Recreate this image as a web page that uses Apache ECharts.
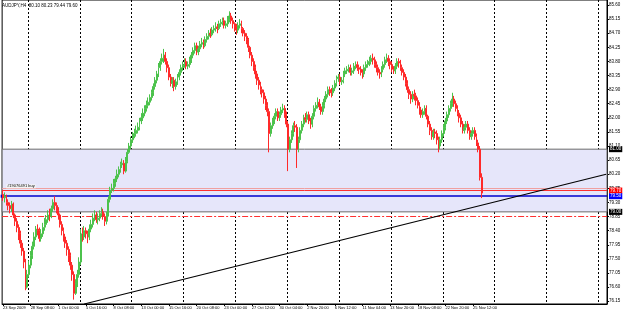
<!DOCTYPE html>
<html><head><meta charset="utf-8">
<script src="https://cdn.jsdelivr.net/npm/echarts@6/dist/echarts.min.js"></script>
<style>html,body{margin:0;padding:0;background:#fff}#c{width:625px;height:312px}</style>
</head><body><div id="c"></div>
<script>
const titleText = 'AUDJPY,H4  80.10 80.23 79.44 79.60';
const tickLabels = ['23 Sep 2009','28 Sep 08:00','1 Oct 00:00','5 Oct 16:00','8 Oct 08:00','13 Oct 00:00','15 Oct 16:00','20 Oct 08:00','23 Oct 00:00','27 Oct 12:00','30 Oct 04:00','2 Nov 20:00','6 Nov 12:00','11 Nov 04:00','13 Nov 20:00','18 Nov 08:00','22 Nov 20:00','25 Nov 12:00'];
const priceTicks = [85.60,85.15,84.70,84.25,83.80,83.35,82.90,82.45,82.00,81.55,81.10,80.65,80.20,79.75,79.30,78.85,78.40,77.95,77.50,77.05,76.60,76.15];
// [open, close, low, high]
const candles = [
[79.55,79.45,79.35,79.70],[79.45,79.50,79.30,79.62],[79.50,79.30,79.20,79.55],[79.30,79.20,79.05,79.40],[79.20,79.10,78.95,79.30],
[79.10,79.25,79.00,79.35],[79.25,78.90,78.80,79.30],[78.90,78.70,78.55,78.95],[78.70,78.50,78.35,78.80],[78.50,78.30,78.10,78.60],
[78.30,78.00,77.85,78.40],[78.00,77.75,77.60,78.10],[77.75,77.40,77.20,77.85],[77.40,76.60,76.50,77.50],[76.60,77.00,76.55,77.15],
[77.00,77.30,76.90,77.45],[77.30,77.60,77.20,77.75],[77.60,77.90,77.50,78.05],[77.90,78.20,77.80,78.35],[78.20,78.45,78.10,78.55],
[78.45,78.40,78.25,78.60],[78.40,78.15,78.05,78.50],[78.15,78.30,78.05,78.45],[78.30,78.50,78.20,78.65],[78.50,78.60,78.40,78.80],
[78.60,78.75,78.50,78.90],[78.75,78.90,78.65,79.05],[78.90,78.85,78.70,79.10],[78.85,79.10,78.80,79.20],[79.10,79.30,79.00,79.40],
[79.30,79.20,79.05,79.50],[79.20,79.05,78.95,79.30],[79.05,78.90,78.75,79.15],[78.90,78.60,78.50,78.95],[78.60,78.40,78.25,78.70],
[78.40,78.20,78.05,78.50],[78.20,78.00,77.85,78.30],[78.00,77.80,77.60,78.10],[77.80,77.60,77.40,77.90],[77.60,77.30,77.15,77.70],
[77.30,77.00,76.80,77.40],[77.00,76.40,76.20,77.10],[76.40,76.70,76.35,76.85],[76.70,77.00,76.60,77.15],[77.00,77.40,76.90,77.55],
[77.40,78.30,77.30,78.45],[78.30,78.20,78.05,78.50],[78.20,78.40,78.10,78.55],[78.40,78.30,78.15,78.50],[78.30,78.20,78.00,78.40],
[78.20,78.45,78.10,78.60],[78.45,78.60,78.35,78.75],[78.60,78.80,78.50,78.95],[78.80,78.90,78.70,79.05],[78.90,78.75,78.65,79.00],
[78.75,78.80,78.60,78.95],[78.80,78.95,78.70,79.05],[78.95,79.00,78.85,79.15],[79.00,78.85,78.75,79.10],[78.85,78.70,78.55,78.95],
[78.70,78.90,78.60,79.00],[78.90,79.40,78.85,79.50],[79.40,79.70,79.30,79.80],[79.70,79.75,79.60,79.90],[79.75,79.90,79.65,80.05],
[79.90,80.05,79.80,80.15],[80.05,80.20,79.95,80.35],[80.20,80.35,80.10,80.45],[80.35,80.50,80.25,80.60],[80.50,80.55,80.40,80.70],
[80.55,80.30,80.20,80.65],[80.30,80.60,80.25,80.75],[80.60,80.90,80.55,81.00],[80.90,81.10,80.85,81.20],[81.10,81.30,81.00,81.40],
[81.30,81.45,81.20,81.55],[81.45,81.50,81.35,81.65],[81.50,81.60,81.40,81.75],[81.60,81.70,81.50,81.85],[81.70,81.90,81.60,82.00],
[81.90,82.00,81.80,82.15],[82.00,82.15,81.90,82.30],[82.15,82.30,82.05,82.40],[82.30,82.40,82.20,82.55],[82.40,82.50,82.30,82.65],
[82.50,82.65,82.40,82.75],[82.65,82.80,82.55,82.90],[82.80,83.00,82.70,83.10],[83.00,83.20,82.90,83.30],[83.20,83.40,83.10,83.50],
[83.40,83.60,83.30,83.75],[83.60,83.80,83.50,83.90],[83.80,83.90,83.70,84.05],[83.90,84.00,83.75,84.20],[84.00,83.80,83.70,84.10],
[83.80,83.60,83.45,83.90],[83.60,83.30,83.20,83.70],[83.30,83.10,83.00,83.40],[83.10,83.20,82.95,83.30],[83.20,83.00,82.85,83.30],
[83.00,83.15,82.90,83.25],[83.15,83.30,83.05,83.40],[83.30,83.45,83.20,83.55],[83.45,83.60,83.35,83.70],[83.60,83.70,83.50,83.80],
[83.70,83.80,83.60,83.90],[83.80,83.65,83.55,83.90],[83.65,83.70,83.55,83.80],[83.70,83.85,83.60,83.95],[83.85,84.00,83.75,84.10],
[84.00,84.15,83.90,84.25],[84.15,84.30,84.05,84.40],[84.30,84.10,84.00,84.40],[84.10,84.20,84.00,84.30],[84.20,84.35,84.10,84.45],
[84.35,84.40,84.25,84.55],[84.40,84.30,84.20,84.50],[84.30,84.50,84.25,84.60],[84.50,84.60,84.40,84.70],[84.60,84.70,84.50,84.80],
[84.70,84.65,84.55,84.85],[84.65,84.80,84.60,84.90],[84.80,84.85,84.70,84.95],[84.85,84.90,84.75,85.05],[84.90,84.85,84.70,85.00],
[84.85,85.00,84.80,85.10],[85.00,85.05,84.90,85.15],[85.05,85.10,84.95,85.20],[85.10,84.95,84.85,85.20],[84.95,85.00,84.85,85.10],
[85.00,85.15,84.90,85.25],[85.15,85.25,85.05,85.40],[85.25,85.10,85.00,85.35],[85.10,85.00,84.85,85.20],[85.00,84.90,84.75,85.05],
[84.90,84.80,84.65,85.00],[84.80,84.95,84.70,85.05],[84.95,85.00,84.85,85.15],[85.00,84.85,84.70,85.10],[84.85,84.70,84.60,84.90],
[84.70,84.60,84.45,84.80],[84.60,84.50,84.35,84.70],[84.50,84.25,84.10,84.55],[84.25,84.00,83.90,84.30],[84.00,83.80,83.65,84.10],
[83.80,83.60,83.50,83.90],[83.60,83.40,83.25,83.70],[83.40,83.20,83.05,83.50],[83.20,83.05,82.90,83.30],[83.05,82.90,82.75,83.15],
[82.90,82.80,82.65,83.00],[82.80,82.60,82.45,82.90],[82.60,82.40,82.25,82.70],[82.40,82.20,82.05,82.50],[82.20,81.50,80.90,82.30],
[81.50,81.75,81.40,81.85],[81.75,81.90,81.65,82.00],[81.90,82.05,81.80,82.15],[82.05,82.20,81.95,82.30],[82.20,82.00,81.90,82.30],
[82.00,82.10,81.90,82.20],[82.10,82.25,82.00,82.35],[82.25,82.30,82.15,82.45],[82.30,82.10,82.00,82.40],[82.10,81.80,81.70,82.20],
[81.80,81.00,80.30,81.90],[81.00,81.30,80.90,81.40],[81.30,81.50,81.20,81.60],[81.50,81.75,81.40,81.85],[81.75,81.70,81.55,81.90],
[81.70,81.00,80.40,81.80],[81.00,81.30,80.90,81.40],[81.30,81.60,81.20,81.70],[81.60,81.80,81.50,81.90],[81.80,82.00,81.70,82.10],
[82.00,81.95,81.85,82.15],[81.95,82.10,81.85,82.20],[82.10,81.90,81.80,82.20],[81.90,81.80,81.65,82.00],[81.80,82.05,81.70,82.15],
[82.05,82.30,81.95,82.40],[82.30,82.40,82.20,82.50],[82.40,82.50,82.30,82.65],[82.50,82.35,82.25,82.60],[82.35,82.20,82.10,82.45],
[82.20,82.40,82.10,82.50],[82.40,82.60,82.30,82.70],[82.60,82.75,82.50,82.85],[82.75,82.90,82.65,83.00],[82.90,82.85,82.70,83.00],
[82.85,82.80,82.65,82.95],[82.80,82.95,82.70,83.05],[82.95,83.10,82.85,83.20],[83.10,83.25,83.00,83.35],[83.25,83.30,83.15,83.40],
[83.30,83.15,83.05,83.40],[83.15,83.20,83.05,83.30],[83.20,83.40,83.10,83.50],[83.40,83.50,83.30,83.60],[83.50,83.55,83.40,83.65],
[83.55,83.60,83.45,83.70],[83.60,83.45,83.35,83.70],[83.45,83.50,83.35,83.60],[83.50,83.65,83.40,83.75],[83.65,83.70,83.55,83.80],
[83.70,83.60,83.50,83.80],[83.60,83.55,83.40,83.70],[83.55,83.45,83.35,83.65],[83.45,83.40,83.25,83.55],[83.40,83.60,83.30,83.70],
[83.60,83.70,83.50,83.80],[83.70,83.75,83.60,83.85],[83.75,83.80,83.65,83.95],[83.80,83.90,83.70,84.00],[83.90,83.85,83.70,84.05],
[83.85,83.70,83.60,83.95],[83.70,83.60,83.45,83.80],[83.60,83.45,83.35,83.70],[83.45,83.40,83.25,83.55],[83.40,83.55,83.30,83.65],
[83.55,83.70,83.45,83.80],[83.70,83.85,83.60,83.95],[83.85,83.90,83.75,84.05],[83.90,83.80,83.65,84.00],[83.80,83.70,83.55,83.90],
[83.70,83.55,83.45,83.80],[83.55,83.50,83.40,83.65],[83.50,83.65,83.40,83.75],[83.65,83.80,83.55,83.90],[83.80,83.75,83.60,83.90],
[83.75,83.60,83.50,83.85],[83.60,83.45,83.35,83.70],[83.45,83.30,83.20,83.55],[83.30,83.10,83.00,83.40],[83.10,82.90,82.80,83.20],
[82.90,82.75,82.60,83.00],[82.75,82.60,82.45,82.85],[82.60,82.75,82.50,82.85],[82.75,82.70,82.55,82.90],[82.70,82.55,82.40,82.80],
[82.55,82.40,82.30,82.65],[82.40,82.25,82.10,82.50],[82.25,82.10,82.00,82.35],[82.10,82.20,82.00,82.30],[82.20,82.30,82.10,82.40],
[82.30,82.05,81.95,82.40],[82.05,81.80,81.70,82.10],[81.80,81.60,81.45,81.90],[81.60,81.40,81.30,81.70],[81.40,81.55,81.30,81.65],
[81.55,81.50,81.35,81.65],[81.50,81.30,81.15,81.60],[81.30,81.10,80.90,81.40],[81.10,81.30,81.00,81.40],[81.30,81.50,81.20,81.60],
[81.50,81.70,81.40,81.80],[81.70,81.90,81.60,82.00],[81.90,82.10,81.80,82.20],[82.10,82.30,82.00,82.40],[82.30,82.45,82.20,82.55],
[82.45,82.60,82.35,82.80],[82.60,82.45,82.35,82.70],[82.45,82.30,82.20,82.55],[82.30,82.15,82.05,82.40],[82.15,82.00,81.85,82.25],
[82.00,81.80,81.70,82.10],[81.80,81.60,81.50,81.90],[81.60,81.70,81.50,81.80],[81.70,81.80,81.60,81.90],[81.80,81.60,81.50,81.90],
[81.60,81.40,81.30,81.70],[81.40,81.50,81.30,81.60],[81.50,81.60,81.40,81.70],[81.60,81.40,81.30,81.70],[81.40,81.20,81.10,81.50],
[81.20,81.00,80.90,81.30],[81.00,80.10,80.00,81.10],[80.10,79.60,79.44,80.23]
];
const slotCount = 350;           // bar slots incl. empty space on the right
const labelEvery = 16;
const gridEvery = 30, gridStart = 15;
const rectTop = 81.00, rectBottom = 79.00;
const orderLine = 79.75, askLine = 79.68, blueLine = 79.50, stopLine = 78.87;
const trendStart = [47, 76.06], trendEnd = [349, 80.20];

const cats = [];
for (let i = 0; i < slotCount; i++) cats.push(String(i));

const chart = echarts.init(document.getElementById('c'), null, {renderer: 'canvas'});
const font = 'Liberation Sans, Arial, sans-serif';
const labelFn = (idx) => idx % labelEvery === 0 && idx / labelEvery < tickLabels.length;
function boxLabel(bg, txt) {
  return {show: true, position: 'end', formatter: txt, color: '#fff', backgroundColor: bg,
    fontSize: 4.5, fontFamily: font, padding: [1, 1, 0, 1], distance: 2};
}
chart.setOption({
  animation: false,
  backgroundColor: '#fff',
  title: {text: titleText, left: 2, top: 3, padding: 0, textStyle: {fontSize: 4.5, fontWeight: 'normal', color: '#000', fontFamily: font}},
  grid: {left: 0, right: 18, top: 0, bottom: 8, show: true, borderColor: '#000', borderWidth: 1},
  xAxis: {
    type: 'category', data: cats, boundaryGap: true,
    axisLine: {lineStyle: {color: '#000'}},
    axisTick: {show: true, interval: labelFn, length: 2, alignWithLabel: true, lineStyle: {color: '#000'}},
    axisLabel: {interval: labelFn, formatter: (v, i) => tickLabels[Number(v) / labelEvery] || '', align: 'left',
      fontSize: 4, color: '#000', margin: 1.5, fontFamily: font, hideOverlap: false, showMinLabel: true},
    splitLine: {show: true, interval: (i) => i >= gridStart && (i - gridStart) % gridEvery === 0,
      lineStyle: {color: '#000', type: [2, 2], width: 1}}
  },
  yAxis: {
    type: 'value', position: 'right', min: 76.06, max: 85.76, scale: true,
    axisLine: {show: true, lineStyle: {color: '#000'}},
    axisTick: {show: true, length: 2, customValues: priceTicks, lineStyle: {color: '#000'}},
    axisLabel: {customValues: priceTicks, formatter: v => v.toFixed(2), fontSize: 4.5, color: '#000', margin: 2, fontFamily: font},
    splitLine: {show: false}
  },
  series: [
    {type: 'line', data: [], z: 1, silent: true,
      markArea: {silent: true, data: [[{yAxis: rectTop, itemStyle: {color: '#e6e6fa', borderColor: '#6b6b6b', borderWidth: 1}}, {yAxis: rectBottom}]]}},
    {type: 'candlestick', data: candles, z: 5, barWidth: 1.4,
      itemStyle: {color: '#4cc24c', color0: '#ff2a2a', borderColor: '#4cc24c', borderColor0: '#ff2a2a', borderWidth: 1}},
    {type: 'line', data: [], z: 10, silent: true,
      markLine: {silent: true, symbol: ['none', 'none'], animation: false,
        data: [
          {yAxis: orderLine, lineStyle: {color: '#f0a0a0', width: 1, type: 'solid'},
            label: {show: true, position: 'insideStartTop', formatter: '#19076491 buy', fontSize: 4, color: '#000',
              backgroundColor: '#f4f4f4', padding: [0, 1], distance: [4, 0], fontFamily: font}},
          {yAxis: askLine, lineStyle: {color: '#ff3030', width: 1, type: 'solid'}, label: boxLabel('#ff0000', '79.70')},
          {yAxis: blueLine, symbol: ['rect', 'none'], symbolSize: 3, lineStyle: {color: '#0000cc', width: 1.5, type: 'solid'}, label: boxLabel('#0000ff', '79.50')},
          {yAxis: stopLine, lineStyle: {color: '#ff3030', width: 1, type: [6, 2, 2, 2]}, label: {show: false}},
          {yAxis: rectTop, lineStyle: {color: '#6b6b6b', width: 0}, label: boxLabel('#000', '81.00')},
          {yAxis: rectBottom, lineStyle: {color: '#6b6b6b', width: 0}, label: boxLabel('#000', '79.00')},
          [{coord: [cats[trendStart[0]], trendStart[1]], lineStyle: {color: '#000', width: 1.2, type: 'solid'}, label: {show: false}},
           {coord: [cats[trendEnd[0]], trendEnd[1]]}]
        ]}}
  ]
});
</script></body></html>
